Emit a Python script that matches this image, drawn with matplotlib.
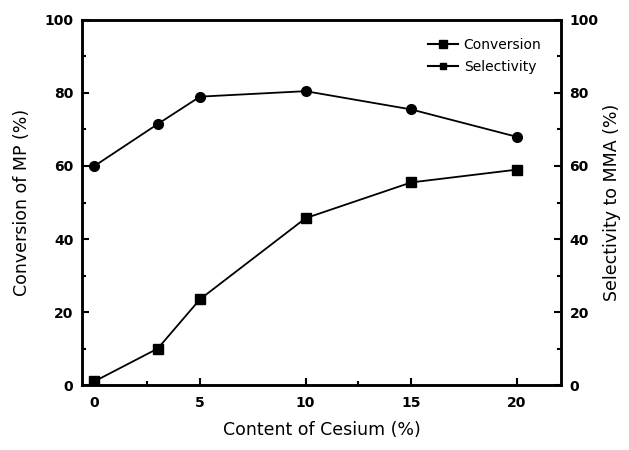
import matplotlib
matplotlib.use("Agg")
import matplotlib.pyplot as plt
from matplotlib.ticker import FixedLocator, MultipleLocator

cesium = [0, 3, 5, 10, 15, 20]
conversion = [1, 10, 23.5, 45.7, 55.5, 59]
selectivity = [60, 71.5, 79, 80.5, 75.5, 68]

x_ticks = [0, 5, 10, 15, 20]
y_ticks = [0, 20, 40, 60, 80, 100]

plt.rcParams['font.family'] = ['DejaVu Sans']

fig = plt.figure(figsize=(6.29, 4.50), dpi=100)
ax = fig.add_axes([0.130, 0.1444, 0.762, 0.8112])
ax2 = ax.twinx()

ax.plot(cesium, conversion, color='black', lw=1.3, marker='s', ms=7)
ax2.plot(cesium, selectivity, color='black', lw=1.3, marker='o', ms=7)

ax.set_xlim(-0.6, 22.1)
ax.set_ylim(0, 100)
ax2.set_ylim(0, 100)

ax.set_xticks(x_ticks)
ax.xaxis.set_minor_locator(FixedLocator([2.5, 12.5]))
for a in (ax, ax2):
    a.set_yticks(y_ticks)
    a.yaxis.set_minor_locator(MultipleLocator(10))
    a.tick_params(which='both', direction='in', width=1.5, labelsize=10)
    a.tick_params(which='major', length=5)
    a.tick_params(which='minor', length=3)
    for lab in a.get_xticklabels() + a.get_yticklabels():
        lab.set_fontweight('bold')
    for s in a.spines.values():
        s.set_linewidth(1.8)
ax.tick_params(axis='x', pad=8)
ax.tick_params(axis='y', pad=6)
ax2.tick_params(axis='y', pad=6)

ax.set_xlabel('Content of Cesium (%)', fontsize=12.5, labelpad=8)
ax.set_ylabel('Conversion of MP (%)', fontsize=12.5, labelpad=10)
ax2.set_ylabel('Selectivity to MMA (%)', fontsize=12.5, labelpad=3)

leg_h1, = ax.plot([], [], color='black', lw=1.5, marker='s', ms=6)
leg_h2, = ax.plot([], [], color='black', lw=1.5, marker='s', ms=5)
ax2.legend([leg_h1, leg_h2], ['Conversion', 'Selectivity'], loc='upper right',
           bbox_to_anchor=(0.985, 0.985), frameon=False, fontsize=10,
           handlelength=2.2, handletextpad=0.4, labelspacing=0.6)

fig.savefig('out.png', dpi=100)
